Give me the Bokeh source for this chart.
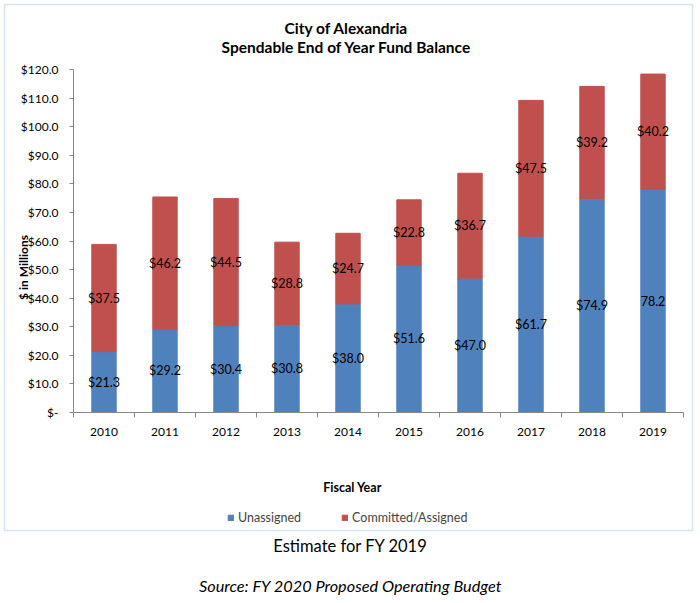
import numpy as np
from bokeh.plotting import figure
from bokeh.models import (ColumnDataSource, Range1d, FixedTicker, Label, Legend,
                          LegendItem, BoxAnnotation)
from bokeh.core.properties import value
from bokeh.embed import file_html
from bokeh.resources import INLINE

years = ["2010", "2011", "2012", "2013", "2014", "2015", "2016", "2017", "2018", "2019"]
unassigned = [21.3, 29.2, 30.4, 30.8, 38.0, 51.6, 47.0, 61.7, 74.9, 78.2]
committed = [37.5, 46.2, 44.5, 28.8, 24.7, 22.8, 36.7, 47.5, 39.2, 40.2]
unassigned_labels = ["$21.3", "$29.2", "$30.4", "$30.8", "$38.0", "$51.6", "$47.0", "$61.7", "$74.9", "78.2"]
committed_labels = ["$37.5", "$46.2", "$44.5", "$28.8", "$24.7", "$22.8", "$36.7", "$47.5", "$39.2", "$40.2"]
y_ticks = [0, 10, 20, 30, 40, 50, 60, 70, 80, 90, 100, 110, 120]
y_tick_labels = ["$-", "$10.0", "$20.0", "$30.0", "$40.0", "$50.0", "$60.0", "$70.0",
                 "$80.0", "$90.0", "$100.0", "$110.0", "$120.0"]

BLUE = "#4F81BD"
RED = "#C0504D"
FONT = "Lato"

W, H = 700, 603
# pixel layout of the plotting area (page pixels)
AX_L, AX_R, AX_T, AX_B = 73, 683, 69, 412
n = len(years)
YMAX = 120
sx = (AX_R - AX_L) / n
sy = (AX_B - AX_T) / YMAX

xc = np.arange(n) + 0.5
u = np.array(unassigned)
c = np.array(committed)
total = u + c

src = ColumnDataSource(dict(
    x=xc, u=u, total=total,
    u_mid=u / 2, c_mid=u + c / 2,
    ul=unassigned_labels, cl=committed_labels,
))

p = figure(width=W, height=H, output_backend="svg", toolbar_location=None,
           x_range=Range1d(-AX_L / sx, n + (W - AX_R) / sx),
           y_range=Range1d(-(H - AX_B) / sy, YMAX + AX_T / sy),
           min_border=0, min_border_left=0, min_border_right=0,
           min_border_top=0, min_border_bottom=0)
p.outline_line_color = None
p.xgrid.visible = False
p.ygrid.visible = False
p.background_fill_color = "white"
p.border_fill_color = "white"

r1 = p.vbar(x="x", width=0.4, bottom=0, top="u", source=src, fill_color=BLUE, line_color=BLUE)
r2 = p.vbar(x="x", width=0.4, bottom="u", top="total", source=src, fill_color=RED, line_color=RED)

p.text(x="x", y="u_mid", text="ul", source=src, text_align="center", text_baseline="middle",
       text_font=value(FONT), text_font_size="12.5px", text_color="black")
p.text(x="x", y="c_mid", text="cl", source=src, text_align="center", text_baseline="middle",
       text_font=value(FONT), text_font_size="12.5px", text_color="black")

# x axis
xa = p.xaxis[0]
xa.fixed_location = 0
xa.bounds = (0, n)
xa.ticker = FixedTicker(ticks=list(xc), minor_ticks=list(range(n + 1)))
xa.major_label_overrides = {float(x): y for x, y in zip(xc, years)}
xa.major_tick_line_color = None
xa.major_tick_out = 0
xa.major_tick_in = 0
xa.minor_tick_out = 5
xa.minor_tick_in = 0
xa.minor_tick_line_color = "#868686"
xa.axis_line_color = "#868686"
xa.major_label_text_font = FONT
xa.major_label_text_font_size = "12px"
xa.major_label_text_color = "black"
xa.major_label_standoff = 10

# y axis
ya = p.yaxis[0]
ya.fixed_location = 0
ya.bounds = (0, YMAX)
ya.ticker = FixedTicker(ticks=y_ticks, minor_ticks=[])
ya.major_label_overrides = {t: l for t, l in zip(y_ticks, y_tick_labels)}
ya.major_tick_out = 4
ya.major_tick_in = 0
ya.major_tick_line_color = "#868686"
ya.axis_line_color = "#868686"
ya.major_label_text_font = FONT
ya.major_label_text_font_size = "12px"
ya.major_label_text_color = "black"
ya.major_label_standoff = 11

def lab(x, y, text, size, style="normal", angle=0):
    # x, y in page pixels from the top-left corner
    p.add_layout(Label(x=x, y=H - y, x_units="screen", y_units="screen", text=text,
                       text_font=FONT, text_font_size=size, text_font_style=style,
                       text_align="center", text_baseline="middle", angle=angle,
                       text_color="black"))

lab(346, 27, "City of Alexandria", "15.5px", "bold")
lab(346, 46, "Spendable End of Year Fund Balance", "15.5px", "bold")
lab(23, 267, "$ in Millions", "12px", "bold", angle=np.pi / 2)
lab(352, 487, "Fiscal Year", "12.5px", "bold")
lab(350, 545, "Estimate for FY 2019", "16.5px")
lab(350, 585, "Source: FY 2020 Proposed Operating Budget", "16.3px", "italic")

legend = Legend(items=[LegendItem(label="Unassigned", renderers=[r1]),
                       LegendItem(label="Committed/Assigned", renderers=[r2])],
                orientation="horizontal", location=(227, H - 525),
                glyph_width=7, glyph_height=7, label_height=14, label_standoff=4,
                spacing=40, padding=0, margin=0, border_line_color=None,
                background_fill_alpha=0, label_text_font=FONT, label_text_font_size="12.5px")
p.add_layout(legend, "center")

p.add_layout(BoxAnnotation(left=4, right=692, top=H - 4, bottom=H - 530,
                           left_units="screen", right_units="screen",
                           top_units="screen", bottom_units="screen",
                           fill_alpha=0, line_color="#7FA4D6", line_width=1.5))

open("out.html", "w").write(file_html(p, INLINE))
